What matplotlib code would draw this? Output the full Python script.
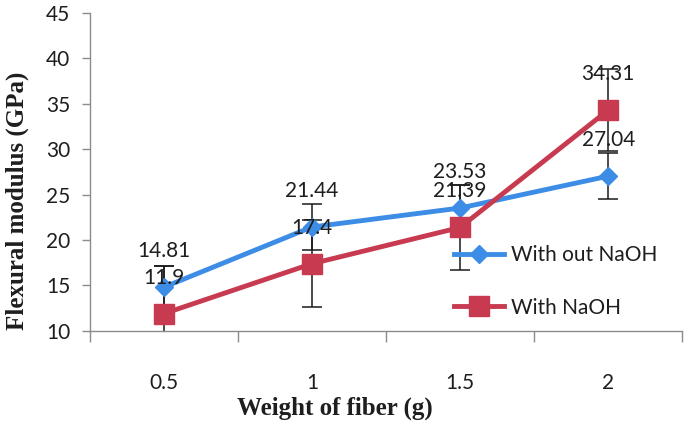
import numpy as np
import matplotlib.pyplot as plt
import matplotlib as mpl

# data
weights = ['0.5', '1', '1.5', '2']
no_naoh = [14.81, 21.44, 23.53, 27.04]
no_naoh_err = [2.35, 2.5, 2.5, 2.5]
naoh = [11.9, 17.4, 21.39, 34.31]
naoh_err = [5.3, 4.8, 4.7, 4.5]

blue = '#3d8de6'
red = '#c73a50'
txt = '#1e1e1e'
axcol = '#8c8c8c'

mpl.rcParams['font.family'] = ['Lato', 'DejaVu Sans']

fig = plt.figure(figsize=(6.85, 4.21), dpi=100)
ax = fig.add_axes([0.131, 0.214, 0.865, 0.755])

x = np.arange(len(weights))

ax.errorbar(x, no_naoh, yerr=no_naoh_err, fmt='none', ecolor='#1a1a1a',
            elinewidth=1.1, capsize=7, capthick=1.1, zorder=2)
ax.errorbar(x, naoh, yerr=naoh_err, fmt='none', ecolor='#1a1a1a',
            elinewidth=1.1, capsize=7, capthick=1.1, zorder=2)

ax.plot(x, no_naoh, color=blue, lw=3.5, marker='D', ms=9, mec=blue,
        label='With out NaOH', zorder=3)
ax.plot(x, naoh, color=red, lw=3.5, marker='s', ms=15, mec=red,
        label='With NaOH', zorder=3)

# data labels above points
for xi, v in zip(x, no_naoh):
    ax.annotate(f'{v:g}', (xi, v), xytext=(0, 26), textcoords='offset points',
                ha='center', va='center', fontsize=15, color=txt, zorder=5)
for xi, v in zip(x, naoh):
    ax.annotate(f'{v:g}', (xi, v), xytext=(0, 26), textcoords='offset points',
                ha='center', va='center', fontsize=15, color=txt, zorder=5)

ax.set_ylim(10, 45)
ax.set_yticks(np.arange(10, 46, 5))
ax.set_xlim(-0.5, len(weights) - 0.5)
ax.set_xticks(np.arange(-0.5, len(weights), 1.0))
ax.set_xticklabels([])
ax.set_xticks(x, minor=True)
ax.set_xticklabels(weights, minor=True)
ax.tick_params(axis='x', which='major', length=8, color=axcol, width=1)
ax.tick_params(axis='x', which='minor', length=0, pad=30, labelsize=15, labelcolor=txt)
ax.tick_params(axis='y', length=6, color=axcol, width=1, pad=8, labelsize=15, labelcolor=txt)

for s in ['top', 'right']:
    ax.spines[s].set_visible(False)
for s in ['left', 'bottom']:
    ax.spines[s].set_color(axcol)
    ax.spines[s].set_linewidth(1)

ax.set_ylabel('Flexural modulus (GPa)', family='Liberation Serif', weight='bold',
              fontsize=18, color=txt, va='center')
ax.yaxis.set_label_coords(-0.122, 0.41)
ax.set_xlabel('Weight of fiber (g)', family='Liberation Serif', weight='bold',
              fontsize=18, color=txt, va='center')
ax.xaxis.set_label_coords(0.414, -0.242)

leg = ax.legend(loc='upper left', bbox_to_anchor=(0.6, 0.295), frameon=False,
                fontsize=15, handlelength=2.4, handletextpad=0.35,
                labelspacing=1.55, borderaxespad=0)
for t in leg.get_texts():
    t.set_color(txt)

fig.savefig('out.png', dpi=100)
